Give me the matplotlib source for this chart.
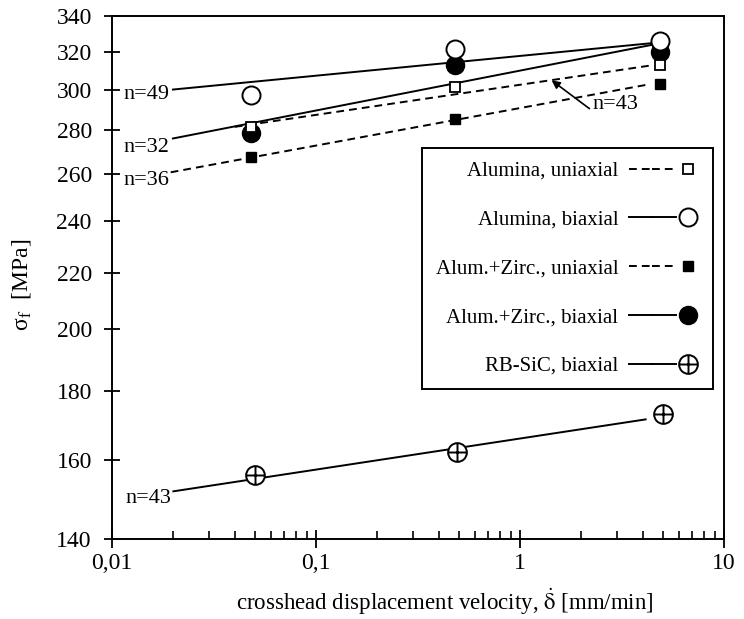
import matplotlib
matplotlib.use("Agg")
import matplotlib.pyplot as plt
from matplotlib.lines import Line2D
from matplotlib.path import Path
from matplotlib.legend_handler import HandlerTuple
from matplotlib.ticker import LogLocator, NullLocator, NullFormatter

plt.rcParams['font.family'] = ['Liberation Serif', 'DejaVu Serif']
plt.rcParams['mathtext.fontset'] = 'stix'

# crosshead speed [mm/min]
v_alu = [0.048, 0.48, 4.85]
v_sic = [0.050, 0.49, 5.0]

# strength [MPa]
alu_uni = [281.8, 301.4, 312.7]
alu_bi = [297.3, 321.7, 325.7]
az_uni = [267.7, 285.3, 302.7]
az_bi = [278.9, 312.7, 320.1]
sic_bi = [156.0, 162.2, 173.1]

# fitted lines, start and end points
fit_x_alu_uni = [0.040, 4.43]
fit_y_alu_uni = [281.7, 312.7]
fit_x_alu_bi = [0.0199, 4.55]
fit_y_alu_bi = [300.1, 324.8]
fit_x_az_uni = [0.0194, 4.31]
fit_y_az_uni = [260.8, 302.8]
fit_x_az_bi = [0.0199, 4.55]
fit_y_az_bi = [276.2, 324.0]
fit_x_sic = [0.0200, 4.13]
fit_y_sic = [151.8, 171.5]

# n values written next to the lines
n_text = ['n=49', 'n=32', 'n=36', 'n=43']
n_x = [0.0192, 0.0192, 0.0191, 0.0196]
n_y = [297.6, 272.2, 257.4, 150.0]

y_ticks = [140, 160, 180, 200, 220, 240, 260, 280, 300, 320, 340]
x_ticks = [0.01, 0.1, 1, 10]
x_ticklabels = ['0,01', '0,1', '1', '10']

legend_labels = ['Alumina, uniaxial', 'Alumina, biaxial', 'Alum.+Zirc., uniaxial',
                 'Alum.+Zirc., biaxial', 'RB-SiC, biaxial']

# circle with a cross for RB-SiC
oplus = Path.make_compound_path(
    Path.unit_circle(),
    Path([(-1, 0), (1, 0), (0, -1), (0, 1)],
         [Path.MOVETO, Path.LINETO, Path.MOVETO, Path.LINETO]))

dash = (0, (4, 2.6))
lw = 1.4

fig = plt.figure(figsize=(7.44, 6.19), dpi=100)
ax = fig.add_axes([0.1505, 0.1292, 0.8226, 0.845])

ax.plot(fit_x_alu_uni, fit_y_alu_uni, color='k', lw=lw, ls=dash, zorder=2)
ax.plot(fit_x_alu_bi, fit_y_alu_bi, color='k', lw=lw, zorder=2)
ax.plot(fit_x_az_uni, fit_y_az_uni, color='k', lw=lw, ls=dash, zorder=2)
ax.plot(fit_x_az_bi, fit_y_az_bi, color='k', lw=lw, zorder=2)
ax.plot(fit_x_sic, fit_y_sic, color='k', lw=lw, zorder=2)

ax.plot(v_alu, az_bi, ls='none', marker='o', ms=13, color='k', zorder=3)
ax.plot(v_alu, az_uni, ls='none', marker='s', ms=7.5, color='k', zorder=3)
ax.plot(v_alu, alu_uni, ls='none', marker='s', ms=7.5, mfc='white', mec='k', mew=1.3, zorder=4)
ax.plot(v_alu, alu_bi, ls='none', marker='o', ms=13, mfc='white', mec='k', mew=1.4, zorder=4)
ax.plot(v_sic, sic_bi, ls='none', marker=oplus, ms=13.5, mfc='white', mec='k', mew=1.4, zorder=4)

for t, x, y in zip(n_text, n_x, n_y):
    ax.text(x, y, t, ha='right', va='center', fontsize=16)

ax.annotate('n=43', xy=(1.43, 304.8), xytext=(2.26, 292.8), ha='left', va='center',
            fontsize=16,
            arrowprops=dict(arrowstyle='-|>', color='k', lw=1.2, shrinkA=0, shrinkB=0,
                            mutation_scale=12, relpos=(0, 0.15)))

ax.set_xscale('log')
ax.set_yscale('log')
ax.set_xlim(0.01, 10)
ax.set_ylim(140, 340)

ax.set_yticks(y_ticks, [str(t) for t in y_ticks])
ax.yaxis.set_minor_locator(NullLocator())
ax.yaxis.set_minor_formatter(NullFormatter())
ax.set_xticks(x_ticks, x_ticklabels)
ax.xaxis.set_minor_locator(LogLocator(base=10, subs=range(2, 10)))
ax.xaxis.set_minor_formatter(NullFormatter())

ax.tick_params(axis='y', which='major', direction='inout', length=11, width=1.3,
               pad=9, labelsize=17)
ax.tick_params(axis='x', which='major', direction='inout', length=13, width=1.3,
               pad=3.5, labelsize=17)
ax.tick_params(axis='x', which='minor', direction='in', length=6, width=1.2)
for s in ax.spines.values():
    s.set_linewidth(lw)

ax.set_xlabel(r'crosshead displacement velocity, $\dot{\mathrm{\delta}}$ [mm/min]', fontsize=16.5)
ax.xaxis.set_label_coords(0.544, -0.092)
ax.set_ylabel(r'σ$_{\mathrm{f}}$  [MPa]', fontsize=17)
ax.yaxis.set_label_coords(-0.129, 0.486)


def line_h(ls):
    return Line2D([], [], color='k', lw=lw, ls=ls)


handles = [
    (line_h(dash), line_h(dash), Line2D([], [], ls='none', marker='s', ms=7.5, mfc='white', mec='k', mew=1.3)),
    (line_h('-'), line_h('-'), Line2D([], [], ls='none', marker='o', ms=13, mfc='white', mec='k', mew=1.4)),
    (line_h(dash), line_h(dash), Line2D([], [], ls='none', marker='s', ms=7.5, color='k')),
    (line_h('-'), line_h('-'), Line2D([], [], ls='none', marker='o', ms=13, color='k')),
    (line_h('-'), line_h('-'), Line2D([], [], ls='none', marker=oplus, ms=13.5, mfc='white', mec='k', mew=1.4)),
]
leg = ax.legend(handles, legend_labels, handler_map={tuple: HandlerTuple(ndivide=None, pad=0)},
                markerfirst=False, loc='upper right', bbox_to_anchor=(0.982, 0.748),
                borderaxespad=0, fancybox=False, edgecolor='k', framealpha=1,
                fontsize=15, handlelength=3.4, handletextpad=0.5, labelspacing=1.4,
                borderpad=0.65)
leg.get_frame().set_linewidth(lw)

fig.savefig('out.png', dpi=100)
